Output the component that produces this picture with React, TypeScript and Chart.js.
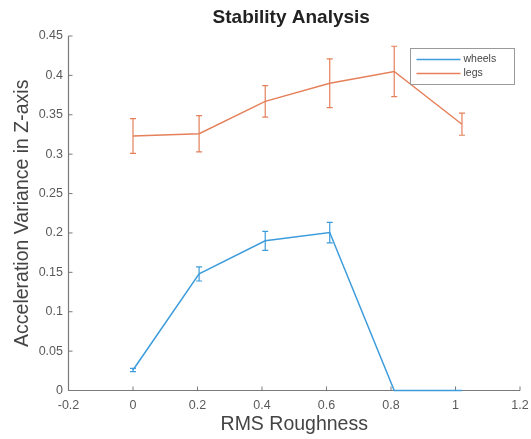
import React, { useEffect, useRef } from "react";
import { Chart, registerables } from "chart.js";

Chart.register(...registerables);

// Measured RMS roughness levels and the mean / std of the Z-axis acceleration variance
const roughness = [0, 0.205, 0.41, 0.61, 0.81, 1.02];
const wheelsMean = [0.026, 0.148, 0.19, 0.2005, 0, 0];
const wheelsErr = [0.002, 0.009, 0.012, 0.013, 0, 0];
const legsMean = [0.323, 0.326, 0.367, 0.39, 0.405, 0.338];
const legsErr = [0.022, 0.023, 0.02, 0.031, 0.032, 0.014];

const seriesNames = ["wheels", "legs"];
const seriesColors = ["#3d9cdb", "#e5805a"];

const chartTitle = "Stability Analysis";
const xTitle = "RMS Roughness";
const yTitle = "Acceleration Variance in Z-axis";

const xMin = -0.2;
const xMax = 1.2;
const xStep = 0.2;
const yMin = 0;
const yMax = 0.45;
const yStep = 0.05;

const FONT = "'Liberation Sans', Arial, Helvetica, sans-serif";
const AXIS_COLOR = "#7a7a7a";
const TEXT_COLOR = "#5a5a5a";

const fmt = (v: number) => String(Number(v.toFixed(2)));

// Axis lines with inward tick marks, MATLAB style (box off)
const axesPlugin = {
  id: "matlabAxes",
  beforeDatasetsDraw(chart: any) {
    const { ctx, chartArea } = chart;
    const { left, right, top, bottom } = chartArea;
    const xs = chart.scales.x;
    const ys = chart.scales.y;
    ctx.save();
    ctx.strokeStyle = AXIS_COLOR;
    ctx.lineWidth = 1.2;
    ctx.beginPath();
    ctx.moveTo(left, top);
    ctx.lineTo(left, bottom);
    ctx.lineTo(right, bottom);
    ctx.stroke();
    ctx.lineWidth = 1;
    ctx.beginPath();
    xs.ticks.forEach((t: any) => {
      const px = xs.getPixelForValue(t.value);
      ctx.moveTo(px, bottom);
      ctx.lineTo(px, bottom - 4);
    });
    ys.ticks.forEach((t: any) => {
      const py = ys.getPixelForValue(t.value);
      ctx.moveTo(left, py);
      ctx.lineTo(left + 4, py);
    });
    ctx.stroke();
    ctx.restore();
  },
};

// Vertical error bars with caps, taken from each dataset's `errors` array
const errorBarPlugin = {
  id: "errorBars",
  afterDatasetsDraw(chart: any) {
    const { ctx } = chart;
    const xs = chart.scales.x;
    const ys = chart.scales.y;
    ctx.save();
    chart.data.datasets.forEach((ds: any) => {
      const errs: number[] = ds.errors || [];
      ctx.strokeStyle = ds.borderColor;
      ctx.lineWidth = 1.2;
      ds.data.forEach((p: any, i: number) => {
        const e = errs[i];
        if (!e) return;
        const px = xs.getPixelForValue(p.x);
        const yTop = ys.getPixelForValue(p.y + e);
        const yBot = ys.getPixelForValue(p.y - e);
        const cap = 3;
        ctx.beginPath();
        ctx.moveTo(px, yTop);
        ctx.lineTo(px, yBot);
        ctx.moveTo(px - cap, yTop);
        ctx.lineTo(px + cap, yTop);
        ctx.moveTo(px - cap, yBot);
        ctx.lineTo(px + cap, yBot);
        ctx.stroke();
      });
    });
    ctx.restore();
  },
};

// Title above the axes and a boxed legend in the upper-right corner
const decorPlugin = {
  id: "decor",
  afterDraw(chart: any) {
    const { ctx, chartArea } = chart;
    ctx.save();
    ctx.fillStyle = "#222222";
    ctx.font = `bold 19px ${FONT}`;
    ctx.textAlign = "center";
    ctx.textBaseline = "middle";
    ctx.fillText(chartTitle, (chartArea.left + chartArea.right) / 2 - 3, 18);

    const bx = 410.5;
    const by = 48.5;
    const bw = 104;
    const bh = 36;
    ctx.fillStyle = "#ffffff";
    ctx.fillRect(bx, by, bw, bh);
    ctx.strokeStyle = "#9a9a9a";
    ctx.lineWidth = 1;
    ctx.strokeRect(bx, by, bw, bh);
    ctx.font = `10.5px ${FONT}`;
    ctx.textAlign = "left";
    chart.data.datasets.forEach((ds: any, i: number) => {
      const ly = by + 11 + i * 14;
      ctx.strokeStyle = ds.borderColor;
      ctx.lineWidth = 1.5;
      ctx.beginPath();
      ctx.moveTo(bx + 6, ly);
      ctx.lineTo(bx + 50, ly);
      ctx.stroke();
      ctx.fillStyle = "#444444";
      ctx.fillText(ds.label, bx + 53, ly);
    });
    ctx.restore();
  },
};

export default function App() {
  const canvasRef = useRef<HTMLCanvasElement | null>(null);

  useEffect(() => {
    if (!canvasRef.current) return;
    const toPoints = (ys: number[]) => roughness.map((x, i) => ({ x, y: ys[i] }));
    const chart = new Chart(canvasRef.current, {
      type: "line",
      data: {
        datasets: [
          {
            label: seriesNames[0],
            data: toPoints(wheelsMean),
            errors: wheelsErr,
            borderColor: seriesColors[0],
            backgroundColor: seriesColors[0],
            borderWidth: 1.5,
            pointRadius: 0,
            tension: 0,
            clip: false,
          } as any,
          {
            label: seriesNames[1],
            data: toPoints(legsMean),
            errors: legsErr,
            borderColor: seriesColors[1],
            backgroundColor: seriesColors[1],
            borderWidth: 1.5,
            pointRadius: 0,
            tension: 0,
            clip: false,
          } as any,
        ],
      },
      options: {
        responsive: false,
        animation: false,
        layout: { padding: { top: 36, right: 11, left: 0, bottom: 0 } },
        plugins: {
          legend: { display: false },
          title: { display: false },
          tooltip: { enabled: false },
        },
        scales: {
          x: {
            type: "linear",
            min: xMin,
            max: xMax,
            grid: { display: false, drawTicks: false, tickLength: 0 },
            border: { display: false },
            ticks: {
              stepSize: xStep,
              autoSkip: false,
              padding: 8,
              color: TEXT_COLOR,
              font: { family: FONT, size: 12.5 },
              callback: (v: any) => fmt(Number(v)),
            },
            title: {
              display: true,
              text: xTitle,
              color: "#444444",
              font: { family: FONT, size: 19.5 },
              padding: { top: 0, bottom: 2.5 },
            },
            afterFit: (scale: any) => {
              scale.height = 48.5;
              scale.paddingLeft = 0;
              scale.paddingRight = 0;
            },
          },
          y: {
            type: "linear",
            min: yMin,
            max: yMax,
            grid: { display: false, drawTicks: false, tickLength: 0 },
            border: { display: false },
            ticks: {
              stepSize: yStep,
              autoSkip: false,
              padding: 5.5,
              color: TEXT_COLOR,
              font: { family: FONT, size: 12.5 },
              callback: (v: any) => fmt(Number(v)),
            },
            title: {
              display: true,
              text: yTitle,
              color: "#444444",
              font: { family: FONT, size: 19.5 },
              padding: { top: 11, bottom: 0 },
            },
            afterFit: (scale: any) => {
              scale.width = 68.5;
              scale.paddingTop = 0;
              scale.paddingBottom = 0;
            },
          },
        },
      } as any,
      plugins: [axesPlugin, errorBarPlugin, decorPlugin],
    });
    return () => chart.destroy();
  }, []);

  return (
    <div style={{ position: "absolute", left: 0, top: 0, width: 531, height: 439, background: "#ffffff" }}>
      <canvas ref={canvasRef} width={531} height={439} />
    </div>
  );
}
